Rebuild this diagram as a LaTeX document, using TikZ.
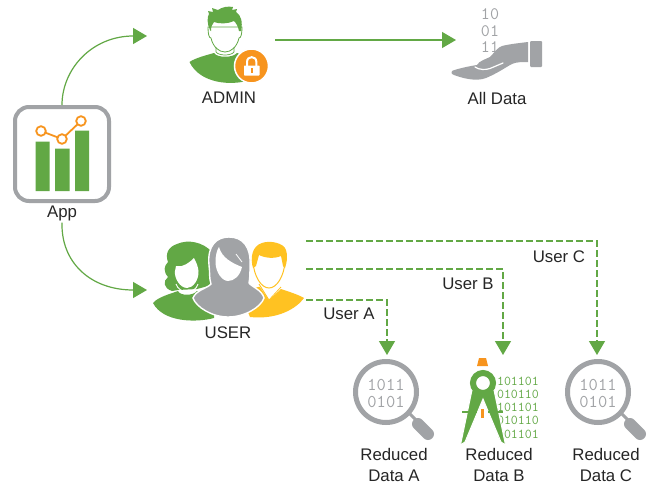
\documentclass[tikz,border=0pt]{standalone}
\usepackage{fontspec}
\setmainfont{Liberation Sans}
\usetikzlibrary{arrows.meta}
\definecolor{grn}{HTML}{62A845}
\definecolor{gry}{HTML}{A1A3A6}
\definecolor{org}{HTML}{F7941E}
\definecolor{ylw}{HTML}{FFC222}
\tikzset{
  lab/.style={font=\fontsize{16.8}{20}\selectfont,text=black!85,align=center,inner sep=0pt},
  flow/.style={draw=grn,line width=1.2pt,-{Triangle[length=14pt,width=16pt,fill=grn]}},
  dflow/.style={flow,dash pattern=on 6.5pt off 3.5pt},
  bits/.style={font=\ttfamily\fontsize{18}{18}\selectfont,text=gry,inner sep=0pt},
  tbits/.style={font=\ttfamily\fontsize{17.5}{18}\selectfont,text=gry,inner sep=0pt},
  gbits/.style={font=\ttfamily\fontsize{13.5}{13}\selectfont,text=grn,inner sep=0pt,anchor=east},
  lens/.style={draw=gry,line width=5pt,fill=white,circle,minimum size=61pt,inner sep=0pt},
  handle/.style={draw=gry,line width=12pt,line cap=round}
}
\begin{document}
\begin{tikzpicture}[x=1pt,y=-1pt]
\useasboundingbox (0,0) rectangle (649,485);
\fill[white] (0,0) rectangle (649,485);

% App
\node[draw=gry,line width=4pt,rounded corners=14pt,fill=white,minimum width=94pt,minimum height=94pt,inner sep=0pt] (app) at (62,154) {};
\fill[grn] (35.5,141.5) rectangle (49.5,191) (55,148.5) rectangle (69.5,191) (75,130.5) rectangle (89,191);
\draw[org,line width=1.8pt] (41,131) -- (62,139) -- (81,121);
\foreach \p in {(41,131),(62,139),(81,121)} \draw[org,line width=1.8pt,fill=white] \p circle (4.8);
\node[lab] (applab) at (62,213) {App};

% Admin icon
\fill[grn] (189.5,62) .. controls (195,58) and (207,55) .. (214,53) .. controls (217,58) and (233,58) .. (237,53) .. controls (243,55) and (250,57) .. (253,60) -- (250,80) .. controls (232,86) and (200,84) .. (189.5,62) -- cycle;
\draw[grn,fill=white,line width=.8pt] (208,27) .. controls (208,34) and (209,38) .. (211,38) .. controls (213,47) and (219,52) .. (225,52) .. controls (231,52) and (237,47) .. (239,38) .. controls (241,38) and (242,34) .. (242,27) -- cycle;
\draw[grn,line width=.7pt] (216,47) -- (216,52) .. controls (219,56) and (231,56) .. (234,52) -- (234,47);
\fill[grn] (210,30) .. controls (207,24) and (207,17) .. (209,14) -- (208,11) -- (213,12) -- (212,8) -- (218,10) .. controls (222,7) and (228,6) .. (233,7) -- (232,10) -- (237,9) -- (236,12) .. controls (241,15) and (243,22) .. (241,31) -- (239,31) .. controls (238,26) and (236,23) .. (234,21) .. controls (228,24) and (219,24) .. (214,22) .. controls (212,24) and (211,27) .. (211,31) -- cycle;
\node[circle,fill=org,draw=white,line width=1.5pt,minimum size=34pt,inner sep=0pt] (badge) at (251.5,66) {};
\draw[white,line width=2pt] (247,66) -- (247,62) .. controls (247,55.5) and (256.4,55.5) .. (256.4,62) -- (256.4,66);
\fill[white,rounded corners=.6pt] (244,65.5) rectangle (259.5,75.5);
\fill[org] (250.5,68) rectangle (252.8,72.5);
\coordinate (adminOut) at (275,40);
\node[lab] (adminlab) at (229,98) {ADMIN};

% All data
\node[tbits] (b1) at (490,14.5) {10};
\node[tbits] (b2) at (490,31) {01};
\node[tbits] (b3) at (490,47) {11};
\fill[gry] (452,71) .. controls (456,69) and (470,66) .. (477,65) .. controls (479,61) and (486,59) .. (490,57) .. controls (494,53) and (498,47) .. (502,46) .. controls (510,44) and (520,43) .. (528,42) -- (528,62) .. controls (522,62) and (516,62) .. (512,64) .. controls (506,67) and (498,73) .. (486,78) .. controls (476,82) and (462,78) .. (454,75) .. controls (451,74) and (451,72) .. (452,71) -- cycle;
\draw[white,line width=1.2pt,line cap=round] (475,67) .. controls (479,70) and (486,70) .. (490,68.5) -- (503,63);
\fill[gry,rounded corners=1pt] (530,41) rectangle (542,67);
\coordinate (allIn) at (456,40);
\node[lab] (alllab) at (497,98) {All Data};

% Users: green woman
\fill[grn] (153,303) .. controls (158,297) and (170,294) .. (178,291) .. controls (180,296) and (193,296) .. (197,291) .. controls (203,293) and (210,296) .. (215,300) -- (214,318) .. controls (195,323) and (163,322) .. (153,303) -- cycle;
\fill[grn] (172,291) .. controls (163,288) and (163,281) .. (168,277) .. controls (163,271) and (164,266) .. (168,262) .. controls (165,254) and (168,247) .. (177,244) .. controls (188,239) and (203,242) .. (212,252) -- (212,285) -- (197,289) -- (178,290) -- cycle;
\fill[white] (176,266) .. controls (183,268) and (190,262) .. (194,258) .. controls (196,262) and (198,266) .. (198.5,271) .. controls (199,280) and (193,288) .. (187,288) .. controls (180,288) and (174,278) .. (175,271) -- cycle;
\draw[white,line width=.9pt] (176,284) .. controls (179,294) and (195,295) .. (198,284);
% yellow man
\fill[ylw] (240,292) -- (262,286) -- (269,300) -- (281,289) .. controls (290,292) and (299,295) .. (304,298) .. controls (297,308) and (278,320) .. (250,317) -- cycle;
\fill[white] (258,284) -- (269,300) -- (282,287) -- cycle;
\draw[ylw,line width=.8pt] (259,284) -- (269,300) -- (281,287);
\draw[ylw,fill=white,line width=1pt] (253,262) .. controls (254,276) and (261,288) .. (269,288) .. controls (277,288) and (284,276) .. (285,262) -- (282,250) -- (256,250) -- cycle;
\fill[ylw] (253,268) .. controls (250,258) and (252,246) .. (262,243) .. controls (270,240) and (284,243) .. (286,250) .. controls (288,256) and (287,262) .. (285,268) -- (283,266) -- (281,256) .. controls (274,259) and (265,258) .. (259,255) -- (256,266) -- cycle;
% gray woman
\fill[gry,draw=white,line width=1.4pt] (209,265) .. controls (207,245) and (217,237) .. (229,237) .. controls (243,237) and (251,247) .. (250,265) .. controls (250,272) and (250,278) .. (249,283) .. controls (252,287) and (262,290) .. (264,298) .. controls (261,307) and (245,317) .. (228,317) .. controls (212,317) and (196,307) .. (193,298) .. controls (196,290) and (208,288) .. (211,284) .. controls (209,278) and (210,272) .. (209,265) -- cycle;
\fill[white] (215.5,262) .. controls (215.5,255) and (217,250) .. (219,247) .. controls (222,258) and (232,263) .. (242,267) .. controls (240,276) and (234,281) .. (228,281) .. controls (222,281) and (215.5,272) .. (215.5,262) -- cycle;
\draw[white,line width=.8pt] (236,254) -- (242,262);
\coordinate (userA) at (306,300);
\coordinate (userB) at (306,269);
\coordinate (userC) at (306,241);
\coordinate (userIn) at (147,290);
\coordinate (adminIn) at (147,36);
\node[lab] (userlab) at (228,333) {USER};

% Magnifier A
\draw[handle] (418,424) -- (428,434);
\draw[gry,line width=3pt] (408,412) -- (418,422);
\node[lens] (lensA) at (386,392) {};
\node[bits] (a1) at (386,385) {1011};
\node[bits] (a2) at (386,402) {0101};
\coordinate (dataAIn) at (387,355);
\node[lab] (dataAlab) at (394,465) {Reduced\\[1.5pt]Data A};

% Compass B
\foreach \t/\yy in {101101/381,010110/394,101101/407,010110/420,101101/434}
  \node[gbits] at (539,\yy) {\t};
\fill[org] (479,358) -- (486,358) -- (488,366) -- (477,366) -- cycle;
\fill[grn,draw=white,line width=1pt] (472,390) -- (460.5,445) -- (465,442) -- (483,399) -- (501,442) -- (505.5,445) -- (494,390) -- cycle;
\draw[grn,line width=1.6pt] (462,412) -- (477,412) (488,412) -- (503,412);
\node[circle,draw=grn,line width=6pt,fill=white,minimum size=20pt,inner sep=0pt] (ring) at (483,383) {};
\fill[org] (480.5,409) rectangle (484,418);
\coordinate (dataBIn) at (503,355);
\node[lab] (dataBlab) at (499,465) {Reduced\\[1.5pt]Data B};

% Magnifier C
\draw[handle] (630,424) -- (640,434);
\draw[gry,line width=3pt] (620,412) -- (630,422);
\node[lens] (lensC) at (598,392) {};
\node[bits] (c1) at (598,385) {1011};
\node[bits] (c2) at (598,402) {0101};
\coordinate (dataCIn) at (597,355);
\node[lab] (dataClab) at (606,465) {Reduced\\[1.5pt]Data C};

% Connectors
\draw[flow] (app.north) .. controls +(0,-36) and (92,36) .. (adminIn);
\draw[flow] (applab.south) ++(0,2) .. controls (61,262) and (90,290) .. (userIn);
\draw[flow] (adminOut) -- (allIn);
\draw[dflow] (userA) -| (dataAIn);
\draw[dflow] (userB) -| (dataBIn);
\draw[dflow] (userC) -| (dataCIn);
\node[lab] (ua) at (349,314) {User A};
\node[lab] (ub) at (468,284) {User B};
\node[lab] (uc) at (559,257) {User C};
\end{tikzpicture}
\end{document}
